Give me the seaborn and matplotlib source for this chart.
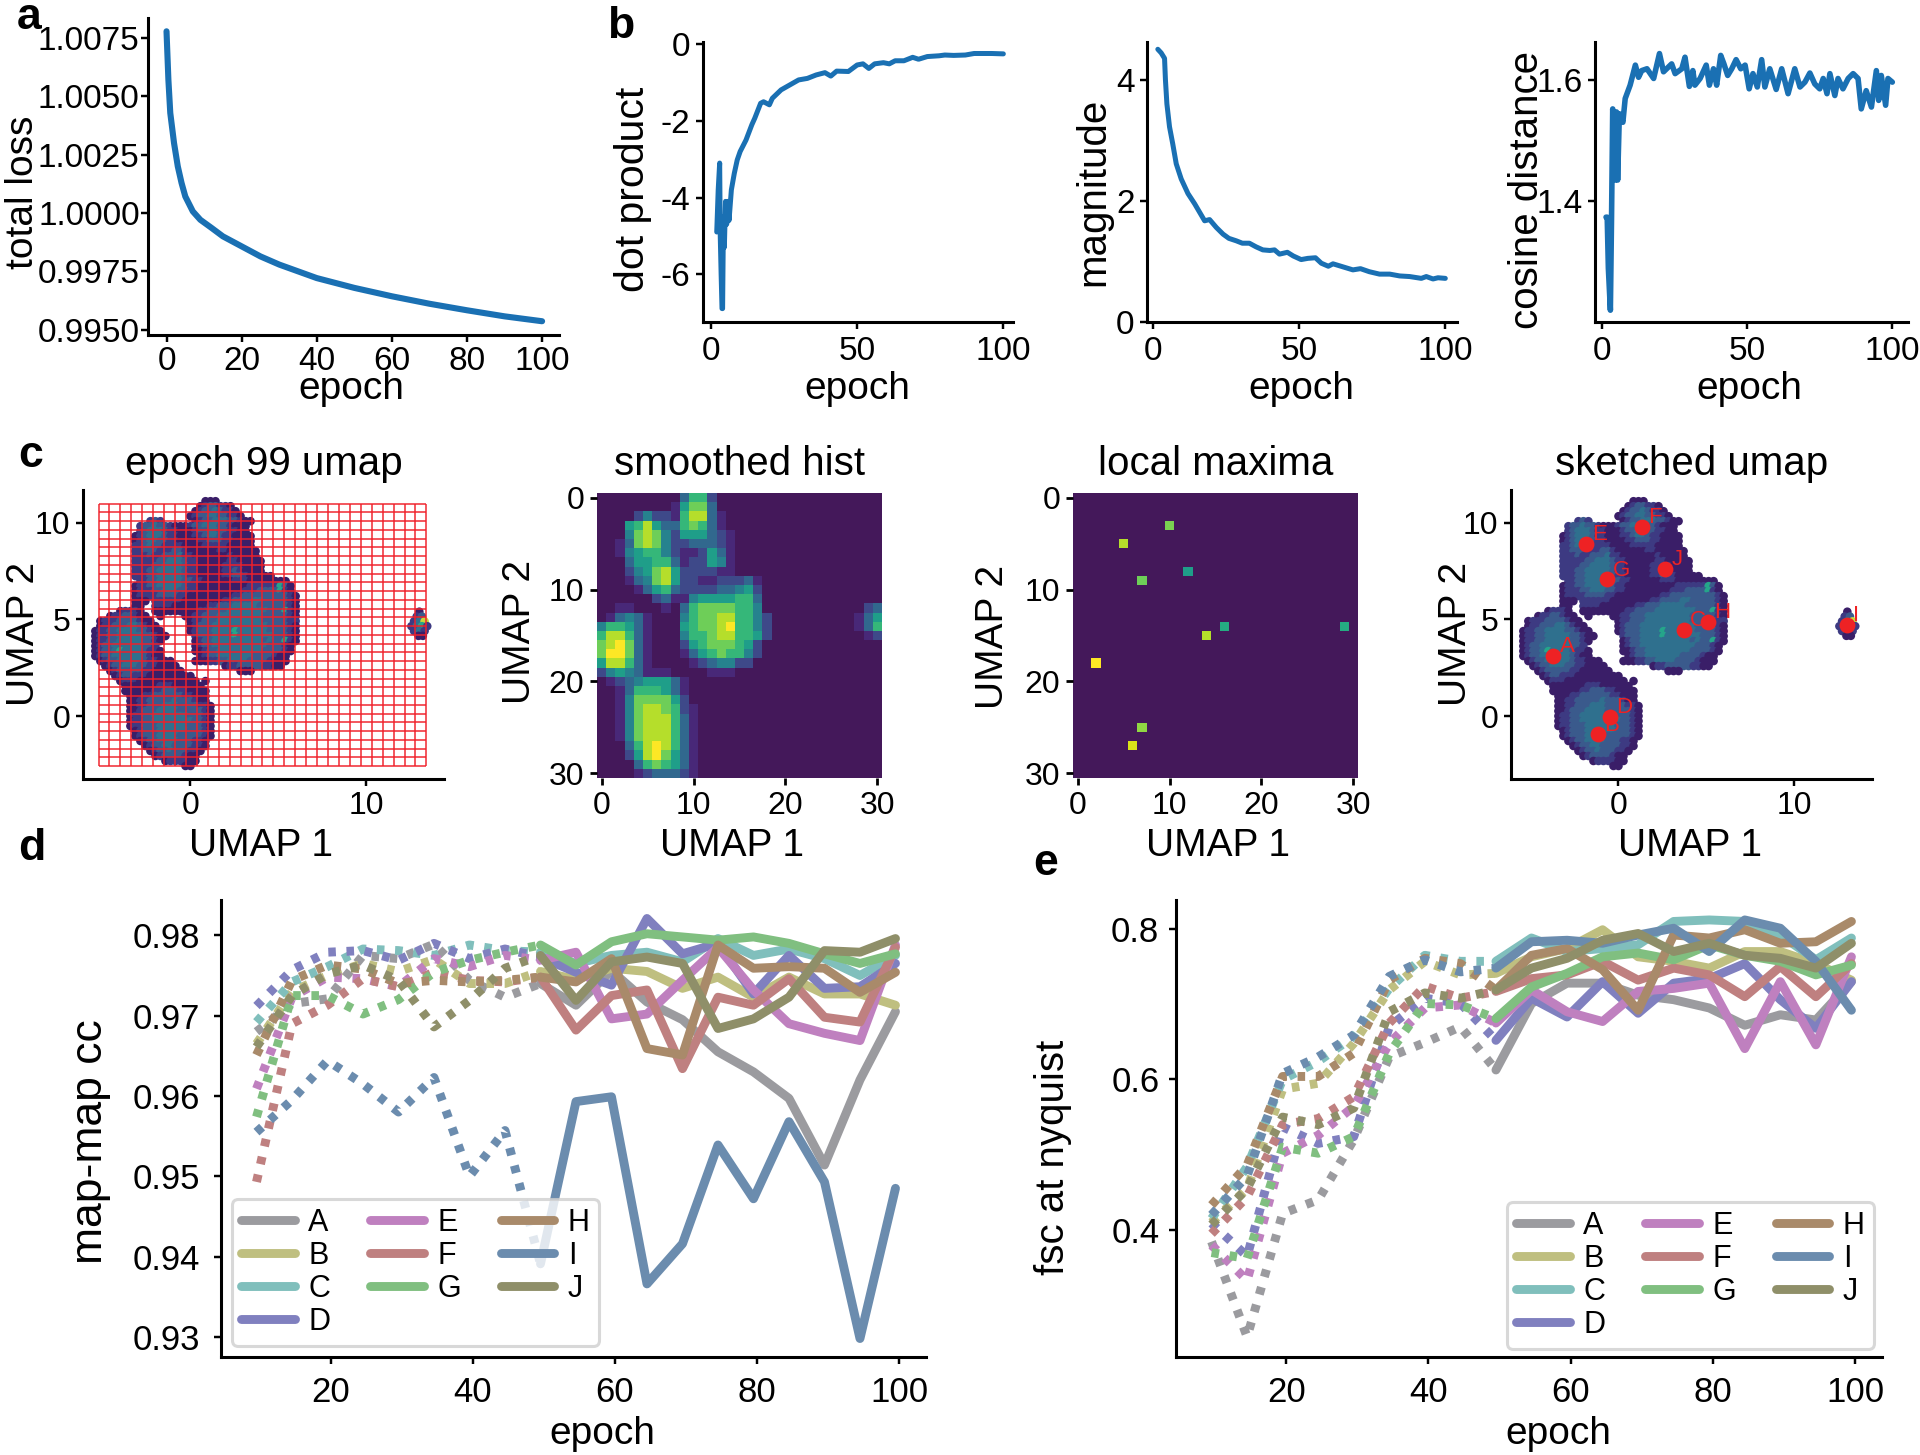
import numpy as np
import pandas as pd
import matplotlib
matplotlib.use("Agg")
import matplotlib.pyplot as plt
import seaborn as sns

W, H = 1920, 1455
SCALE = 1920 / 1568  # label positions below were read on the 1568 wide view
BLUE = "#1a70b3"

# panel a
loss_epoch = [0, .5, 1, 2, 3, 4, 5, 7, 9, 12, 15, 20, 25, 30, 35, 40, 50, 60, 70, 80, 90, 100]
loss_value = [1.00779, 1.00571, 1.00429, 1.0030, 1.0020, 1.00129, 1.00071, 1.00007, .99971, .99936, .9990,
              .99857, .99814, .99779, .9975, .99721, .99679, .99643, .99611, .99583, .99557, .99536]

# panel b
dot_epoch = [2, 2.5, 3, 3.2, 3.5, 3.8, 4, 4.3, 4.6, 5, 5.4, 5.8, 6.2, 7, 8, 9, 10, 12, 14, 15, 17, 18, 20, 21, 24,
             27, 30, 33, 36, 39, 41, 43, 47, 50, 52, 54, 56, 59, 61, 63, 66, 69, 71, 74, 78, 80, 83, 87, 90, 93,
             96, 100]
dot_value = [-4.9, -3.8, -3.1, -5, -6.0, -6.9, -6.9, -4.5, -5.3, -4.1, -4.7, -4.1, -4.6, -3.8, -3.37, -3.02, -2.8,
             -2.5, -2.1, -1.93, -1.54, -1.5, -1.58, -1.41, -1.19, -1.06, -.93, -.89, -.8, -.74, -.83, -.7, -.71,
             -.54, -.51, -.63, -.51, -.48, -.51, -.43, -.43, -.34, -.39, -.32, -.3, -.28, -.29, -.28, -.24, -.24,
             -.24, -.25]

mag_epoch = [1.7, 2.85, 4, 4.3, 4.8, 5.7, 6.8, 8, 9.7, 12, 14.3, 16, 17.7, 19.4, 21.7, 24, 26, 28.5, 30.6, 33, 35.3,
             37.6, 40, 41.6, 43.3, 46, 48, 50.7, 53, 55.6, 57.6, 60, 61.6, 65, 68.4, 71, 74, 77.5, 81, 84.4, 87.8,
             91.8, 93.5, 95.8, 97.5, 100]
mag_value = [4.5, 4.44, 4.35, 4.0, 3.6, 3.22, 2.94, 2.61, 2.36, 2.12, 1.95, 1.81, 1.67, 1.69, 1.56, 1.45, 1.38, 1.34,
             1.3, 1.3, 1.24, 1.19, 1.18, 1.19, 1.12, 1.15, 1.09, 1.03, 1.05, 1.06, .97, .92, .96, .91, .86, .88, .83,
             .79, .79, .76, .75, .72, .75, .71, .73, .72]

cos_epoch = [1.4, 1.8, 2.2, 2.9, 3.3, 3.7, 4.6, 5, 5.4, 6, 7.2, 8, 9.7, 11.5, 12.6, 13.7, 15.5, 17.8, 19.8, 21.2, 24,
             25.2, 27.5, 28.6, 30.1, 31.3, 32, 33.8, 35.9, 37, 38.4, 39.5, 40.9, 42, 43.3, 44.7, 46.2, 47.8, 49.3,
             50.7, 52, 53.5, 55, 56.1, 57.8, 60, 61.9, 64.1, 66.4, 68.2, 69.9, 71.6, 73.3, 75, 76.2, 77.5, 78.5, 80.2,
             81.3, 83, 84.8, 86.5, 88.2, 89.3, 91, 92.8, 94.5, 95.3, 96.2, 97.7, 98.5, 100]
cos_value = [1.374, 1.374, 1.29, 1.221, 1.374, 1.552, 1.435, 1.547, 1.435, 1.544, 1.53, 1.569, 1.591, 1.624, 1.604,
             1.615, 1.618, 1.602, 1.643, 1.613, 1.626, 1.61, 1.618, 1.637, 1.589, 1.615, 1.591, 1.602, 1.624, 1.591,
             1.618, 1.591, 1.64, 1.626, 1.607, 1.618, 1.633, 1.618, 1.624, 1.585, 1.61, 1.588, 1.633, 1.588, 1.618,
             1.584, 1.618, 1.577, 1.618, 1.588, 1.596, 1.611, 1.593, 1.585, 1.602, 1.577, 1.61, 1.574, 1.602, 1.585,
             1.602, 1.61, 1.602, 1.552, 1.582, 1.555, 1.615, 1.566, 1.607, 1.558, 1.602, 1.596]

# panel c: umap density, one text row per cell row, digits are the density class
umap_rows = [
    "                      000",
    "                     0122110",
    "                    012232110",
    "                   01223322110",
    "           121      012233322100",
    "         1223221000122333221000",
    "         1233321100012233221100",
    "        012333211000112332110000",
    "        012332211000011222110000",
    "        112322111100001111100000",
    "        1122211122100000011000000",
    "        1112112223110000000100000",
    "        11111223332110000001100000",
    "        11112233332110000011110000",
    "        11122333332110000011210000",
    "        1112233333211000001122100000",
    "         112233333221100000011100000000",
    "        01122333332110000000000111111420",
    "        01112233322110000000001112222410",
    "        011112222110000000001122222222210",
    "        000 11111100000000112222332222210",
    "        00  11110000000112223333322222210",
    "     01110  00000000011222233333333222410",
    "   01122100  0    00112223333333332222210",
    " 01112222100       0112223333333332222211",
    " 011222332100      0122233333333333222210",
    "01122333322100     0122233334333333222210",
    "011223333322100     122233334333333322210",
    "01122333332210      012233333333332322410",
    "0122333333221       01223333333333322210",
    "01223433332110      00122333333333222210",
    "01223333332100       012233333332222100",
    " 012233333211000    0001122333322221000",
    "  012233322110000         011222221100",
    "   012222211000000           000",
    "    0122111000000000",
    "     0111000000000000 0",
    "      0000000111000000",
    "      00000011222110000",
    "       0001122222211000",
    "       0011222223222100",
    "       00112223332222110",
    "       00122233332222210",
    "       01122333333322210",
    "       01122333333332210",
    "       01122233333322210",
    "        0122233333322210",
    "        0122233332222210",
    "         01223333222110",
    "          0122332222110",
    "           01223222110",
    "            012222100",
    "              0111100",
    "                  00",
]
umap_x0, umap_dx = -5.38, .2841
umap_y0, umap_dy = 11.12, .2586
island_x = [13.0, 12.85, 13.15, 12.7, 13.0, 13.3, 12.55, 12.85, 13.15, 13.45, 12.7, 13.0, 13.3, 12.95, 13.2]
island_y = [5.4, 5.15, 5.15, 4.9, 4.9, 4.9, 4.65, 4.65, 4.65, 4.65, 4.4, 4.4, 4.4, 4.15, 4.15]
island_v = [0, 1, 2, 1, 3, 5, 1, 3, 4, 1, 1, 3, 1, 0, 0]
umap_palette = {0: "#3a1e68", 1: "#3d3a82", 2: "#3a5a8c", 3: "#2f708e", 4: "#25a58a", 5: "#c8d83a"}

grid_x_range = (-5.2, 13.4)
grid_y_range = (-2.6, 11.0)
n_grid_cells = 30

sketch_names = ["A", "B", "C", "D", "E", "F", "G", "H", "I", "J"]
sketch_x = [-3.67, -1.16, 3.71, -.49, -1.82, 1.36, -.64, 5.08, 13.0, 2.67]
sketch_y = [3.1, -.95, 4.45, -.05, 8.9, 9.8, 7.07, 4.86, 4.7, 7.6]

# smoothed histogram, classes 0 to 9, row then col
hist_cells = [
    "0000000003662000000000000000000",
    "0000000015773000000000000000000",
    "0000242216883100000000000000000",
    "0005685336763100000000000000000",
    "0004787425553210000000000000000",
    "0013787422333210000000000000000",
    "0014566421125310000000000000000",
    "0003556631225410000000000000000",
    "0002457852222110000000000000000",
    "0001347852211222310000000000000",
    "0000135632222334520000000000000",
    "0000002311455556630000000000000",
    "0011000103677776640000000000023",
    "0134310004677886642000000000135",
    "4665310005677896642000000000136",
    "6886310004667886652000000000012",
    "7897310002567776520000000000000",
    "7997310001356766420000000000000",
    "5886310000123442200000000000000",
    "2454311100001110000000000000000",
    "0123455531000000000000000000000",
    "0013666531000000000000000000000",
    "0014777752000000000000000000000",
    "0014788762100000000000000000000",
    "0014788863100000000000000000000",
    "0014788863100000000000000000000",
    "0014788863100000000000000000000",
    "0003689863100000000000000000000",
    "0002589753100000000000000000000",
    "0000367653100000000000000000000",
    "0000123332100000000000000000000",
]

max_cols = [10, 5, 12, 7, 16, 29, 14, 2, 7, 6]
max_rows = [3, 5, 8, 9, 14, 14, 15, 18, 25, 27]
max_vals = [7.2, 8, 5, 7, 5.5, 5.5, 8, 9, 7.5, 8.5]

# panels d and e
names = ["A", "B", "C", "D", "E", "F", "G", "H", "I", "J"]
colors = ["#9b9b9f", "#bfbf80", "#80bfbc", "#8080bf", "#bf80bf", "#bf8080", "#80bf80", "#a98a6a", "#6b8cae", "#8f8f69"]
epochs = [9.5, 14.5, 19.5, 24.5, 29.5, 34.5, 39.5, 44.5, 49.5, 54.5, 59.5, 64.5, 69.5, 74.5, 79.5, 84.5, 89.5, 94.5, 99.5]

cc_A = [.968, .9715, .9721, .9775, .9771, .9789, .9744, .9723, .974, .9713, .9756, .9717, .9695, .9655, .963, .9597, .9514, .962, .9705]
cc_B = [.9665, .973, .975, .9765, .9755, .977, .974, .974, .9755, .9745, .9759, .9755, .9734, .9748, .9723, .9748, .9727, .9727, .9713]
cc_C = [.9692, .9742, .9761, .9783, .9781, .9775, .9788, .9781, .9779, .9765, .9775, .9779, .9767, .9796, .9775, .9783, .9771, .975, .9775]
cc_D = [.9712, .9757, .9779, .9781, .9769, .979, .9771, .9783, .9773, .9754, .9738, .9821, .9777, .979, .9727, .9775, .9734, .9736, .9765]
cc_E = [.9609, .9723, .9748, .9746, .9736, .9771, .9761, .9775, .9769, .9779, .9696, .9702, .9744, .9785, .9732, .969, .9678, .9669, .9788]
cc_F = [.9493, .969, .9713, .9746, .9736, .9754, .9744, .9742, .9748, .9682, .9725, .9732, .9634, .9723, .9713, .9746, .9698, .9692, .9785]
cc_G = [.9574, .9725, .9725, .9702, .972, .9754, .9769, .9779, .9788, .9763, .9792, .9802, .9798, .9794, .9798, .979, .9777, .9765, .9777]
cc_H = [.9651, .9744, .9763, .9758, .974, .9744, .9742, .9744, .9748, .9742, .9771, .9659, .9651, .9788, .9759, .9761, .9759, .9729, .9754]
cc_I = [.9555, .9595, .9644, .9615, .958, .9623, .95, .9557, .9391, .9593, .9599, .9366, .9416, .9539, .9472, .9568, .9493, .9298, .9485]
cc_J = [.9661, .9725, .9752, .9763, .9744, .9686, .9719, .9759, .9775, .9719, .9767, .9773, .9765, .9684, .9696, .9723, .9781, .9779, .9796]

fsc_A = [.3845, .258, .422, .44, .52, .63, .649, .67, .6126, .701, .728, .728, .712, .706, .695, .672, .686, .679, .73]
fsc_B = [.41, .455, .587, .595, .648, .719, .757, .739, .741, .763, .774, .799, .763, .757, .748, .77, .77, .754, .732]
fsc_C = [.415, .484, .6, .624, .657, .721, .765, .757, .757, .788, .77, .774, .779, .81, .812, .81, .792, .759, .788]
fsc_D = [.409, .365, .537, .515, .524, .67, .708, .701, .652, .708, .683, .73, .688, .728, .734, .754, .706, .668, .73]
fsc_E = [.38, .333, .502, .526, .564, .648, .695, .699, .675, .719, .69, .677, .717, .721, .728, .641, .73, .646, .763]
fsc_F = [.395, .444, .54, .548, .577, .675, .724, .708, .717, .734, .739, .757, .732, .748, .739, .71, .75, .71, .754]
fsc_G = [.37, .362, .51, .502, .524, .635, .701, .699, .681, .723, .741, .763, .768, .759, .779, .765, .757, .739, .752]
fsc_H = [.433, .486, .604, .604, .635, .732, .761, .754, .719, .765, .774, .746, .692, .792, .788, .799, .781, .783, .81]
fsc_I = [.42, .472, .608, .63, .659, .737, .759, .743, .748, .783, .785, .781, .792, .801, .77, .812, .801, .757, .692]
fsc_J = [.407, .455, .55, .54, .562, .69, .715, .708, .719, .748, .761, .785, .794, .77, .781, .765, .761, .748, .781]

cc_all = [cc_A, cc_B, cc_C, cc_D, cc_E, cc_F, cc_G, cc_H, cc_I, cc_J]
fsc_all = [fsc_A, fsc_B, fsc_C, fsc_D, fsc_E, fsc_F, fsc_G, fsc_H, fsc_I, fsc_J]


def make_axes(left, top, right, bottom):
    """Add axes from pixel positions in the figure."""
    return fig.add_axes([left / W, 1 - bottom / H, (right - left) / W, (bottom - top) / H])


def style_axes(ax, tick_size, xpad=4, ypad=4, spine=2.2):
    sns.despine(ax=ax)
    for side in ["left", "bottom"]:
        ax.spines[side].set_linewidth(spine)
    ax.tick_params(axis="x", labelsize=tick_size, width=spine * .8, length=5, pad=xpad)
    ax.tick_params(axis="y", labelsize=tick_size, width=spine * .8, length=5, pad=ypad)


def place_labels(ax, xlabel, xpos, ylabel, ypos, xsize=28, ysize=28):
    """Put the axis labels at their centres, given in the 1568 wide view."""
    ax.set_xlabel(xlabel, fontsize=xsize, va="center", ha="center")
    ax.set_ylabel(ylabel, fontsize=ysize, va="center", ha="center")
    ax.xaxis.set_label_coords(xpos[0] * SCALE / W, 1 - xpos[1] * SCALE / H, transform=fig.transFigure)
    ax.yaxis.set_label_coords(ypos[0] * SCALE / W, 1 - ypos[1] * SCALE / H, transform=fig.transFigure)


def curve_panel(rect, x, y, ylabel, xlim, ylim, xticks, yticks, xpos, ypos, lw=3.6, ysize=28, xpad=5, ypad=4):
    ax = make_axes(*rect)
    sns.lineplot(x=x, y=y, ax=ax, color=BLUE, linewidth=lw, estimator=None, sort=False)
    ax.set_xlim(xlim)
    ax.set_ylim(ylim)
    ax.set_xticks(xticks)
    ax.set_yticks(yticks)
    place_labels(ax, "epoch", xpos, ylabel, ypos, ysize=ysize)
    style_axes(ax, 24, xpad=xpad, ypad=ypad)
    return ax


def umap_scatter(ax, xpos, ypos):
    xs, ys, vs = [], [], []
    for r, row in enumerate(umap_rows):
        for c, ch in enumerate(row):
            if ch != " ":
                xs.append(umap_x0 + c * umap_dx)
                ys.append(umap_y0 - r * umap_dy)
                vs.append(int(ch))
    xs += island_x
    ys += island_y
    vs += island_v
    sns.scatterplot(x=xs, y=ys, hue=vs, palette=umap_palette, s=38, linewidth=0, marker="o", legend=False, ax=ax)
    ax.set_xlim(-6.08, 14.4)
    ax.set_ylim(-3.26, 11.7)
    ax.set_xticks([0, 10])
    ax.set_yticks([0, 5, 10])
    place_labels(ax, "UMAP 1", xpos, "UMAP 2", ypos)
    style_axes(ax, 23)


def set_title_at(ax, title, rect):
    ax.set_title(title, fontsize=29, y=(rect[3] - 483) / (rect[3] - rect[1]))


def image_panel(rect, matrix, title, xpos, ypos):
    ax = make_axes(*rect)
    ax.set_facecolor("#44185a")
    sns.heatmap(matrix, ax=ax, cmap="viridis", vmin=0, vmax=9, cbar=False, mask=matrix == 0,
                xticklabels=False, yticklabels=False)
    ax.set_xticks([.5, 10.5, 20.5, 30.5])
    ax.set_xticklabels(["0", "10", "20", "30"], rotation=0)
    ax.set_yticks([.5, 10.5, 20.5, 30.5])
    ax.set_yticklabels(["0", "10", "20", "30"], rotation=0)
    place_labels(ax, "UMAP 1", xpos, "UMAP 2", ypos)
    set_title_at(ax, title, rect)
    ax.tick_params(labelsize=23, width=2, length=5, pad=4)
    return ax


def fsc_panel(rect, series, ylabel, xlim, ylim, yticks, ytick_labels, legend_box, xpos, ypos, ysize, ypad):
    frame = pd.DataFrame({
        "epoch": epochs * len(names),
        "value": np.concatenate(series),
        "name": np.repeat(names, len(epochs)),
    })
    early = frame[frame["epoch"] <= 49.5]
    late = frame[frame["epoch"] >= 49.5]
    palette = dict(zip(names, colors))
    ax = make_axes(*rect)
    sns.lineplot(data=early, x="epoch", y="value", hue="name", palette=palette, ax=ax, linewidth=6.4,
                 linestyle=(0, (.85, 1.2)), estimator=None, legend=False)
    sns.lineplot(data=late, x="epoch", y="value", hue="name", palette=palette, ax=ax, linewidth=6.4,
                 estimator=None, legend=True)
    ax.set_xlim(xlim)
    ax.set_ylim(ylim)
    ax.set_xticks([20, 40, 60, 80, 100])
    ax.set_yticks(yticks)
    ax.set_yticklabels(ytick_labels)
    place_labels(ax, "epoch", xpos, ylabel, ypos, ysize=ysize)
    style_axes(ax, 25, xpad=9, ypad=ypad)
    handles, labels = ax.get_legend_handles_labels()
    ax.legend(handles, labels, ncol=3, fontsize=22, frameon=True, edgecolor="#cfcfcf", framealpha=.8,
              loc="lower left", bbox_to_anchor=(legend_box[0] / W, 1 - legend_box[1] / H),
              bbox_transform=fig.transFigure, borderaxespad=0, borderpad=.3,
              handlelength=1.75, handletextpad=.45, columnspacing=1.3, labelspacing=.1)
    ax.get_legend().get_frame().set_linewidth(2.2)
    return ax


sns.set_style("ticks")
plt.rcParams["font.family"] = ["Liberation Sans", "DejaVu Sans"]
plt.rcParams["axes.unicode_minus"] = False
for key in ["text.color", "axes.labelcolor", "xtick.color", "ytick.color", "axes.edgecolor"]:
    plt.rcParams[key] = "black"
fig = plt.figure(figsize=(W / 100, H / 100), dpi=100)

# row 1
curve_panel((148, 18, 559, 335), loss_epoch, loss_value, "total loss", (-4.93, 104.5), (.99477, 1.00836),
            [0, 20, 40, 60, 80, 100], [.995, .9975, 1.0, 1.0025, 1.005, 1.0075], (287, 318), (19, 157),
            lw=4.4, xpad=3, ypad=1)
fig.axes[0].set_yticklabels(["0.9950", "0.9975", "1.0000", "1.0025", "1.0050", "1.0075"])
curve_panel((703, 42, 1013, 322), dot_epoch, dot_value, "dot product", (-2.7, 103.3), (-7.25, .06),
            [0, 50, 100], [-6, -4, -2, 0], (700, 318), (517, 155), ysize=29.5)
curve_panel((1147, 42, 1457, 322), mag_epoch, mag_value, "magnitude", (-2.0, 104.0), (0, 4.62),
            [0, 50, 100], [0, 2, 4], (1063, 318), (893, 157), ysize=29)
curve_panel((1595, 42, 1908, 322), cos_epoch, cos_value, "cosine distance", (-2.4, 105.4), (1.2016, 1.662),
            [0, 50, 100], [1.4, 1.6], (1429, 318), (1247, 155), lw=4.0, ysize=29)

# row 2
rect_c1 = (83, 490, 444, 779)
ax_c1 = make_axes(*rect_c1)
umap_scatter(ax_c1, (213, 691), (20, 518))
set_title_at(ax_c1, "epoch 99 umap", rect_c1)
grid_x = np.linspace(*grid_x_range, n_grid_cells + 1)
grid_y = np.linspace(*grid_y_range, n_grid_cells + 1)
ax_c1.vlines(grid_x, *grid_y_range, color="#f0202a", linewidth=1.25, alpha=.85)
ax_c1.hlines(grid_y, *grid_x_range, color="#f0202a", linewidth=1.25, alpha=.85)

hist_matrix = np.array([[int(ch) for ch in row] for row in hist_cells], dtype=float)
image_panel((597, 493, 882, 778), hist_matrix, "smoothed hist", (598, 691), (425, 516))

maxima_matrix = np.zeros((31, 31))
maxima_matrix[max_rows, max_cols] = max_vals
image_panel((1073, 493, 1358, 778), maxima_matrix, "local maxima", (995, 691), (811, 520))

rect_c4 = (1511, 490, 1872, 779)
ax_c4 = make_axes(*rect_c4)
umap_scatter(ax_c4, (1380, 691), (1189, 518))
set_title_at(ax_c4, "sketched umap", rect_c4)
sns.scatterplot(x=sketch_x, y=sketch_y, color="#ee2224", s=130, linewidth=0, marker="o", ax=ax_c4, zorder=5)
for name, sx, sy in zip(sketch_names, sketch_x, sketch_y):
    ax_c4.text(sx + .35, sy + .2, name, color="#ee2224", fontsize=16, zorder=6)

# row 3
fsc_panel((221, 900, 926, 1357), cc_all, "map-map cc", (4.5, 103.8), (.9275, .9844),
          [.93, .94, .95, .96, .97, .98], ["0.93", "0.94", "0.95", "0.96", "0.97", "0.98"], (232, 1346),
          (492, 1171), (74, 932), 32, 10)
fsc_panel((1176, 900, 1882, 1357), fsc_all, "fsc at nyquist", (4.5, 103.8), (.2312, .8385),
          [.4, .6, .8], ["0.4", "0.6", "0.8"], (1507, 1349),
          (1273, 1171), (860, 945), 29, 7)

# panel letters
for letter, px, py in [("a", 17, 29), ("b", 607, 38), ("c", 18, 467), ("d", 18, 860), ("e", 1033, 875)]:
    fig.text(px / W, 1 - py / H, letter, fontsize=32, fontweight="bold", va="baseline", ha="left")

plt.savefig("out.png", dpi=100)
